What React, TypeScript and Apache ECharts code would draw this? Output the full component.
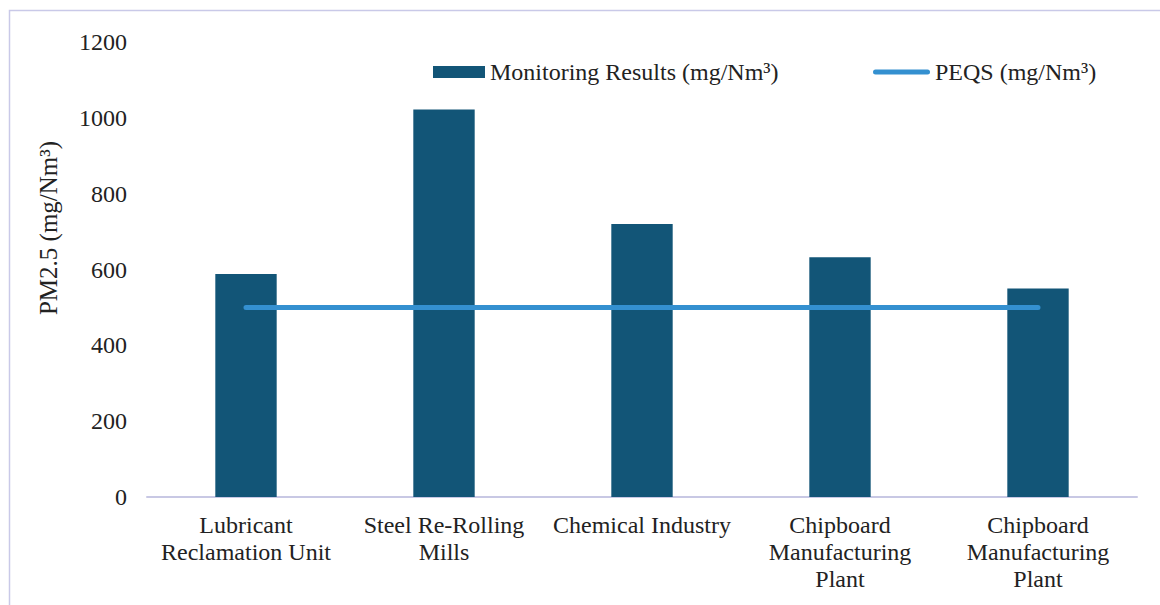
import React, { useEffect, useRef } from "react";
import * as echarts from "echarts";

const categories = [
  "Lubricant\nReclamation Unit",
  "Steel Re-Rolling\nMills",
  "Chemical Industry",
  "Chipboard\nManufacturing\nPlant",
  "Chipboard\nManufacturing\nPlant",
];
const monitoringResults = [588, 1022, 720, 632, 550];
const peqs = [500, 500, 500, 500, 500];
const barName = "Monitoring Results (mg/Nm³)";
const lineName = "PEQS (mg/Nm³)";
const yAxisTitle = "PM2.5 (mg/Nm³)";

const FONT = "'Liberation Serif', 'Times New Roman', serif";
const TEXT = "#222222";
const LINE_COLOR = "#3490d0";
const BAR_COLOR = "#125577";

export default function App() {
  const ref = useRef<HTMLDivElement>(null);
  useEffect(() => {
    if (!ref.current) return;
    const chart = echarts.init(ref.current, undefined, { renderer: "svg" });
    const legendText = { fontFamily: FONT, fontSize: 24, color: TEXT };
    chart.setOption({
      animation: false,
      backgroundColor: "#ffffff",
      textStyle: { fontFamily: FONT, color: TEXT },
      grid: { left: 147, right: 23, top: 42, bottom: 108, containLabel: false },
      legend: [
        {
          left: 428,
          top: 55,
          itemWidth: 52,
          itemHeight: 12,
          textStyle: legendText,
          data: [{ name: barName, icon: "rect" }],
        },
        {
          left: 868,
          top: 55,
          itemWidth: 57,
          itemHeight: 12,
          symbolKeepAspect: true,
          textStyle: legendText,
          data: [
            {
              name: lineName,
              icon: "path://M2.5,0 H54.5 A2.5,2.5 0 0 1 54.5,5 H2.5 A2.5,2.5 0 0 1 2.5,0 Z",
              itemStyle: { color: LINE_COLOR },
            },
          ],
        },
      ],
      xAxis: {
        type: "category",
        data: categories,
        axisLine: { show: true, lineStyle: { color: "#c8c8e4", width: 2 } },
        axisTick: { show: false },
        axisLabel: {
          interval: 0,
          fontFamily: FONT,
          fontSize: 24,
          color: TEXT,
          lineHeight: 27,
          margin: 14,
        },
      },
      yAxis: {
        type: "value",
        min: 0,
        max: 1200,
        interval: 200,
        axisLine: { show: false },
        axisTick: { show: false },
        splitLine: { show: false },
        axisLabel: {
          fontFamily: FONT,
          fontSize: 24,
          color: TEXT,
          margin: 20,
          formatter: (v: number) => String(v),
        },
      },
      graphic: [
        {
          type: "rect",
          shape: { x: 9.5, y: 10.5, width: 1400, height: 800 },
          style: { fill: "none", stroke: "#c9c9e8", lineWidth: 1.5 },
          silent: true,
        },
        {
          type: "text",
          x: 48,
          y: 228,
          rotation: Math.PI / 2,
          style: {
            text: yAxisTitle,
            fontFamily: FONT,
            fontSize: 25,
            fill: TEXT,
            textAlign: "center",
            textVerticalAlign: "middle",
          },
        },
      ],
      series: [
        {
          name: barName,
          type: "bar",
          data: monitoringResults,
          barWidth: "31%",
          itemStyle: { color: BAR_COLOR },
        },
        {
          name: lineName,
          type: "line",
          data: peqs,
          symbol: "none",
          lineStyle: { color: LINE_COLOR, width: 5, cap: "round" },
          itemStyle: { color: LINE_COLOR },
        },
      ],
    });
    return () => chart.dispose();
  }, []);
  return (
    <div
      ref={ref}
      style={{ position: "fixed", left: 0, top: 0, width: 1160, height: 605 }}
    />
  );
}
